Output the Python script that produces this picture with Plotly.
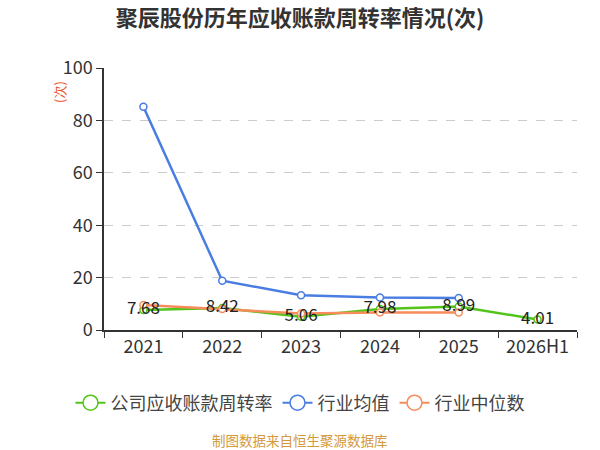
import plotly.graph_objects as go

categories = ["2021", "2022", "2023", "2024", "2025", "2026H1"]
company = [7.68, 8.42, 5.06, 7.98, 8.99, 4.01]
industry_mean = [85.2, 18.8, 13.3, 12.4, 12.2, None]
industry_median = [9.5, 8.0, 6.3, 6.7, 6.7, None]
company_labels = ["7.68", "8.42", "5.06", "7.98", "8.99", "4.01"]

FONT = "Noto Sans CJK SC"
GREEN = "#52c41a"
BLUE = "#4a7de2"
ORANGE = "#f68c5a"

fig = go.Figure()

series = [("公司应收账款周转率", company, GREEN),
          ("行业均值", industry_mean, BLUE),
          ("行业中位数", industry_median, ORANGE)]

for name, y, color in series:
    fig.add_trace(go.Scatter(
        x=categories, y=y, name=name, mode="lines+markers", showlegend=False,
        line=dict(color=color, width=2.5),
        marker=dict(symbol="circle", size=7, color="white",
                    line=dict(color=color, width=1.5)),
        cliponaxis=False,
    ))

# legend entries (no data, larger symbols)
for name, y, color in series:
    fig.add_trace(go.Scatter(
        x=[None], y=[None], name=name, mode="lines+markers",
        line=dict(color=color, width=2),
        marker=dict(symbol="circle", size=15, color="white",
                    line=dict(color=color, width=1.5)),
    ))

fig.add_trace(go.Scatter(
    x=categories, y=company, mode="text", text=company_labels,
    textposition="middle center", showlegend=False,
    textfont=dict(family=FONT, size=17, color="#222222"), cliponaxis=False,
))

PLOT_W = 600 - 104 - 23
PLOT_H = 450 - 68 - 120
CX = (300 - 104) / PLOT_W  # page centre in paper coords

fig.update_layout(
    width=600, height=450,
    margin=dict(l=104, r=23, t=68, b=120),
    paper_bgcolor="white", plot_bgcolor="white",
    font=dict(family=FONT, color="#333333"),
    title=dict(text="<b>聚辰股份历年应收账款周转率情况(次)</b>", x=0.5, xanchor="center",
               y=1 - 18 / 450, yanchor="middle", font=dict(size=22, color="#333333", family=FONT)),
    legend=dict(orientation="h", x=CX, xanchor="center", y=-73 / PLOT_H, yanchor="middle",
                font=dict(size=18, color="#444444", family=FONT), itemwidth=30,
                tracegroupgap=0),
    showlegend=True,
)
fig.update_xaxes(type="category", range=[-0.5, 5.5], showline=True, linecolor="#333333",
                 linewidth=1.5, ticks="outside", tickson="boundaries", ticklen=6,
                 tickcolor="#333333", showgrid=False,
                 tickfont=dict(size=18, color="#333333", family=FONT))
fig.update_yaxes(range=[0, 100], dtick=20, showline=True, linecolor="#333333", linewidth=1.5,
                 ticks="outside", ticklen=6, tickcolor="#333333",
                 showgrid=True, gridcolor="#cccccc", griddash="dash", gridwidth=1,
                 zeroline=False, tickfont=dict(size=18, color="#333333", family=FONT))

fig.add_annotation(text="(次)", xref="paper", yref="paper", x=-45 / PLOT_W, y=(330 - 92) / PLOT_H,
                   xanchor="center", yanchor="middle",
                   textangle=-90, showarrow=False,
                   font=dict(size=13, color="#e8552a", family=FONT))
fig.add_annotation(text="制图数据来自恒生聚源数据库", xref="paper", yref="paper",
                   x=CX, y=-110 / PLOT_H, showarrow=False, xanchor="center", yanchor="middle",
                   font=dict(size=13.5, color="#d4993a", family=FONT))

fig.write_html("out.html", config={"displayModeBar": False},
               post_script="document.body.style.margin='0';")
